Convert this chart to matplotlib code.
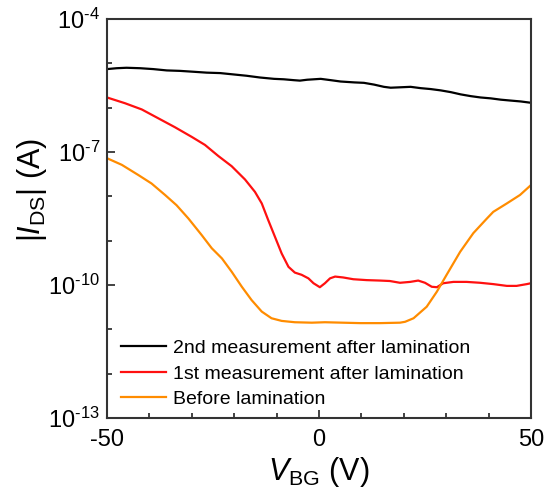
import numpy as np
import matplotlib
matplotlib.use('Agg')
import matplotlib.pyplot as plt
from matplotlib.ticker import FixedLocator, FuncFormatter

plt.rcParams['font.family'] = ['Liberation Sans', 'DejaVu Sans']
plt.rcParams['mathtext.fontset'] = 'custom'
plt.rcParams['mathtext.rm'] = 'Liberation Sans'
plt.rcParams['mathtext.it'] = 'Liberation Sans:italic'
plt.rcParams['axes.unicode_minus'] = False

# values (x in V, log10 of current in A)
x_2nd = [-50, -47.7, -45.4, -42.2, -39.1, -35.9, -32.8, -29.6, -26.5, -23.3,
         -20.2, -17.1, -13.9, -10.6, -8.3, -5.9, -4.5, -2.8, 0.4, 2.8, 5.1,
         8.3, 10.6, 13.0, 15.3, 16.9, 19.3, 21.6, 24.0, 26.3, 28.7, 31.1,
         33.4, 35.8, 38.1, 40.5, 42.9, 45.2, 47.6, 50]
logi_2nd = [-5.13, -5.11, -5.10, -5.11, -5.13, -5.16, -5.17, -5.19, -5.21,
            -5.22, -5.25, -5.28, -5.32, -5.35, -5.36, -5.38, -5.39, -5.37,
            -5.35, -5.38, -5.41, -5.43, -5.44, -5.48, -5.53, -5.55, -5.54,
            -5.53, -5.56, -5.58, -5.61, -5.65, -5.70, -5.74, -5.77, -5.79,
            -5.82, -5.84, -5.86, -5.89]

x_1st = [-50, -45.75, -41.8, -37.9, -34.0, -30.0, -26.9, -23.75, -20.6,
         -17.45, -15.1, -13.5, -12.0, -10.4, -8.8, -7.2, -5.7, -4.1, -2.5,
         -1.3, 0.2, 1.4, 2.6, 3.8, 5.7, 8.1, 11.25, 14.4, 16.7, 19.1, 21.5,
         23.4, 25.0, 26.6, 27.8, 29.3, 31.7, 34.8, 38.0, 41.1, 44.3, 46.6,
         49.0, 50]
logi_1st = [-5.77, -5.90, -6.04, -6.24, -6.44, -6.66, -6.84, -7.09, -7.32,
            -7.62, -7.90, -8.16, -8.53, -8.91, -9.29, -9.59, -9.72, -9.77,
            -9.85, -9.96, -10.05, -9.96, -9.85, -9.81, -9.83, -9.87, -9.89,
            -9.90, -9.91, -9.95, -9.93, -9.90, -9.95, -10.04, -10.05, -9.96,
            -9.93, -9.93, -9.95, -9.98, -10.02, -10.02, -9.98, -9.96]

x_before = [-50, -46.5, -42.6, -39.5, -36.3, -33.6, -30.8, -27.7, -25.3,
            -22.9, -20.6, -18.2, -15.9, -13.5, -11.2, -8.8, -5.7, -1.7, 1.4,
            9.7, 14.4, 19.1, 20.3, 22.3, 25.4, 27.8, 30.1, 33.3, 36.4, 39.6,
            41.1, 44.3, 47.4, 50]
logi_before = [-7.14, -7.29, -7.52, -7.71, -7.97, -8.20, -8.50, -8.87, -9.17,
               -9.40, -9.70, -10.04, -10.34, -10.60, -10.75, -10.81, -10.84,
               -10.85, -10.84, -10.86, -10.86, -10.85, -10.83, -10.75, -10.49,
               -10.15, -9.77, -9.25, -8.83, -8.50, -8.35, -8.16, -7.97, -7.745]

labels = ['2nd measurement after lamination',
          '1st measurement after lamination',
          'Before lamination']
colors = ['#000000', '#ff1010', '#ff8c00']

fig = plt.figure(figsize=(5.48, 5.0), dpi=100)
ax = fig.add_axes([107 / 548, 1 - 418 / 500, 424 / 548, 399 / 500])

for xs, ys, lab, c in zip([x_2nd, x_1st, x_before],
                          [logi_2nd, logi_1st, logi_before], labels, colors):
    ax.plot(xs, 10.0 ** np.array(ys), color=c, lw=1.6, label=lab,
            solid_joinstyle='round')

ax.set_yscale('log')
ax.set_xlim(-50, 50)
ax.set_ylim(1e-13, 1e-4)


def exp_label(v, pos):
    # hyphen instead of the long math minus, as in the reference
    return r'$\mathregular{10^{\text{%d}}}$' % round(np.log10(v))


ax.yaxis.set_major_locator(FixedLocator([1e-13, 1e-10, 1e-7, 1e-4]))
ax.yaxis.set_minor_locator(FixedLocator([10.0 ** k for k in range(-13, -3)]))
ax.yaxis.set_major_formatter(FuncFormatter(exp_label))
ax.yaxis.set_minor_formatter(FuncFormatter(lambda v, p: ''))
ax.set_xticks([-50, 0, 50])
ax.set_xticks(np.arange(-50, 51, 10), minor=True)

ax.tick_params(which='both', direction='in', top=False, right=False,
               labelsize=17, width=1.2, color='#222222')
ax.tick_params(which='major', length=6)
ax.tick_params(which='minor', length=3.5)
ax.tick_params(axis='y', which='major', pad=5)
ax.tick_params(axis='x', which='major', pad=8)
for s in ax.spines.values():
    s.set_linewidth(1.5)
    s.set_color('#333333')

ax.set_xlabel(r'$\mathit{V}_{\mathregular{BG}}$ (V)', fontsize=22, labelpad=3)
ax.set_ylabel(r'$|\mathit{I}_{\mathregular{DS}}|$ (A)', fontsize=22)
ax.yaxis.set_label_coords(-0.137, 0.571)

ax.legend(loc='lower left', bbox_to_anchor=(0.033, 0.025), frameon=False,
          fontsize=14, handlelength=2.3, handletextpad=0.35,
          labelspacing=0.4, borderpad=0, borderaxespad=0)

fig.savefig('out.png', dpi=100)
